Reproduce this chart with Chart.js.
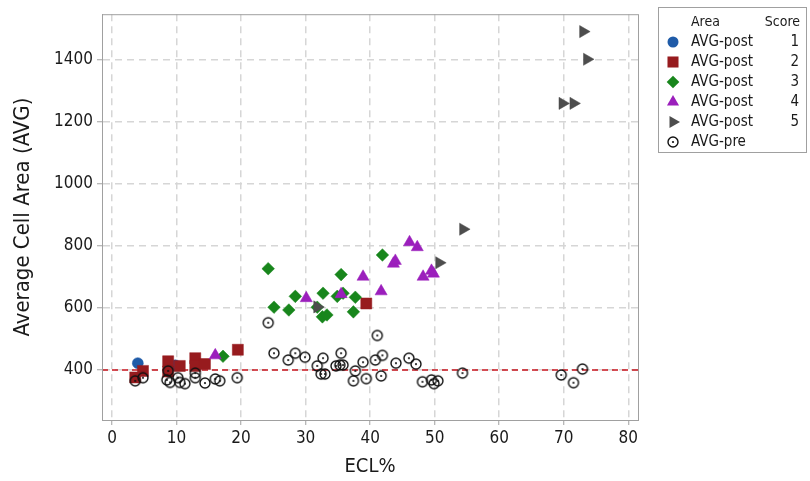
<!DOCTYPE html>
<html lang="en">
<head>
<meta charset="UTF-8">
<title>Average Cell Area vs ECL%</title>
<script src="https://cdn.jsdelivr.net/npm/chart.js"></script>
<style>
    html, body { margin: 0; padding: 0; background: #fff; }
    .chart-container { position: relative; width: 810px; height: 481px; }
</style>
</head>
<body>
<div class="chart-container"><canvas id="cellChart"></canvas></div>
<script>
// ECL% (x) and average cell area (y), one pair of arrays per group
const score1Ecl = [4.0, 9.8];
const score1Avg = [422, 415];

const score2Ecl = [3.6, 4.8, 8.7, 8.7, 10.5, 12.9, 12.9, 14.4, 19.5, 39.4];
const score2Avg = [376, 397, 428, 395, 413, 438, 413, 419, 465, 614];

const score3Ecl = [17.2, 24.2, 25.1, 27.4, 28.4, 31.8, 32.6, 32.7, 33.3, 34.9, 35.5, 35.8, 37.4, 37.7, 41.9];
const score3Avg = [444, 726, 602, 593, 637, 602, 571, 647, 577, 637, 707, 647, 587, 634, 770];

const score4Ecl = [16.0, 30.1, 35.5, 38.9, 41.7, 43.6, 43.9, 46.1, 47.3, 48.2, 49.5, 49.8];
const score4Avg = [447, 631, 644, 700, 653, 742, 751, 811, 795, 700, 719, 710];

const score5Ecl = [31.8, 50.7, 54.4, 69.8, 71.5, 73.0, 73.6];
const score5Avg = [603, 745, 853, 1258, 1258, 1489, 1400];

const preEcl = [3.6, 4.8, 8.5, 9.0, 8.7, 10.2, 10.5, 11.3, 12.9, 12.9, 14.4, 16.0, 16.7, 19.4,
    24.2, 25.1, 27.3, 28.4, 29.9, 31.8, 32.7, 32.4, 33.0, 35.5, 34.7, 35.3, 35.8, 37.7, 37.4,
    38.9, 39.4, 41.1, 40.8, 41.9, 41.7, 44.0, 46.0, 47.1, 48.1, 49.5, 49.9, 50.5, 54.3,
    69.6, 71.5, 72.9];
const preAvg = [365, 375, 368, 360, 397, 375, 360, 356, 390, 375, 358, 371, 365, 375,
    552, 454, 432, 454, 441, 413, 438, 387, 387, 454, 413, 416, 416, 397, 365,
    425, 372, 511, 432, 447, 381, 422, 438, 419, 362, 368, 356, 365, 390,
    384, 359, 403];

const xTicks = [0, 10, 20, 30, 40, 50, 60, 70, 80];
const yTicks = [400, 600, 800, 1000, 1200, 1400];
const refLine = 400;

const legendArea = ['AVG-post', 'AVG-post', 'AVG-post', 'AVG-post', 'AVG-post', 'AVG-pre'];
const legendScore = ['1', '2', '3', '4', '5', ''];

const FONT = "'DejaVu Sans Condensed', 'DejaVu Sans', sans-serif";

// open circle with a dot, like the Minitab symbol
function dotCircle() {
    const c = document.createElement('canvas');
    c.width = 14; c.height = 14;
    const g = c.getContext('2d');
    g.strokeStyle = '#111';
    g.lineWidth = 1.4;
    g.beginPath(); g.arc(7, 7, 5, 0, Math.PI * 2); g.stroke();
    g.fillStyle = '#111';
    g.beginPath(); g.arc(7, 7, 1.1, 0, Math.PI * 2); g.fill();
    return c;
}
const preSymbol = dotCircle();

function toPoints(xs, ys) {
    return xs.map((x, i) => ({ x: x, y: ys[i] }));
}

// marker styles, in legend order
const styles = [
    { color: '#1f5ba8', pointStyle: 'circle', radius: 5.5, rotation: 0 },
    { color: '#971b1e', pointStyle: 'rect', radius: 7.8, rotation: 0 },
    { color: '#18861c', pointStyle: 'rectRot', radius: 6.3, rotation: 0 },
    { color: '#9b1fbc', pointStyle: 'triangle', radius: 7, rotation: 0 },
    { color: '#4d4d4d', pointStyle: 'triangle', radius: 7, rotation: 90 },
    { color: '#111', pointStyle: preSymbol, radius: 7, rotation: 0 }
];
const seriesData = [
    toPoints(score1Ecl, score1Avg),
    toPoints(score2Ecl, score2Avg),
    toPoints(score3Ecl, score3Avg),
    toPoints(score4Ecl, score4Avg),
    toPoints(score5Ecl, score5Avg),
    toPoints(preEcl, preAvg)
];

const datasets = seriesData.map((pts, i) => ({
    label: legendArea[i] + ' ' + legendScore[i],
    data: pts,
    pointStyle: styles[i].pointStyle,
    pointRadius: styles[i].radius,
    pointRotation: styles[i].rotation,
    backgroundColor: styles[i].color,
    borderColor: styles[i].color,
    pointBorderWidth: 0.5
})).reverse(); // first dataset is drawn on top

const framePlugin = {
    id: 'frame',
    beforeDatasetsDraw(chart) {
        const { ctx, chartArea: a, scales } = chart;
        ctx.save();
        const y = scales.y.getPixelForValue(refLine);
        ctx.strokeStyle = '#c8141e';
        ctx.lineWidth = 1.5;
        ctx.setLineDash([6, 4]);
        ctx.beginPath(); ctx.moveTo(a.left, y); ctx.lineTo(a.right, y); ctx.stroke();
        ctx.setLineDash([]);
        ctx.strokeStyle = '#a0a0a0';
        ctx.lineWidth = 1;
        ctx.strokeRect(a.left + 0.5, a.top + 0.5, a.right - a.left, a.bottom - a.top);
        ctx.restore();
    },
    afterDraw(chart) {
        const ctx = chart.ctx;
        ctx.save();
        ctx.strokeStyle = '#a0a0a0';
        ctx.lineWidth = 1;
        ctx.strokeRect(658.5, 7.5, 148, 145);
        ctx.fillStyle = '#1a1a1a';
        ctx.textBaseline = 'middle';
        ctx.font = '14px ' + FONT;
        ctx.textAlign = 'left';
        ctx.fillText('Area', 691, 22);
        ctx.textAlign = 'right';
        ctx.fillText('Score', 800, 22);
        legendArea.forEach((name, i) => {
            const y = 42 + i * 20;
            ctx.font = '15px ' + FONT;
            ctx.textAlign = 'left';
            ctx.fillStyle = '#1a1a1a';
            ctx.fillText(name, 691, y);
            ctx.textAlign = 'right';
            ctx.fillText(legendScore[i], 799, y);
            drawMarker(ctx, styles[i], 673, y);
        });
        ctx.restore();
    }
};

function drawMarker(ctx, st, x, y) {
    const r = st.radius;
    ctx.fillStyle = st.color;
    ctx.beginPath();
    if (st.pointStyle === 'circle') {
        ctx.arc(x, y, r, 0, Math.PI * 2);
    } else if (st.pointStyle === 'rect') {
        const s = r * Math.SQRT1_2;
        ctx.rect(x - s, y - s, 2 * s, 2 * s);
    } else if (st.pointStyle === 'rectRot') {
        ctx.moveTo(x, y - r); ctx.lineTo(x + r, y); ctx.lineTo(x, y + r); ctx.lineTo(x - r, y);
    } else if (st.pointStyle === 'triangle') {
        let rad = st.rotation * Math.PI / 180;
        for (let k = 0; k < 3; k++) {
            const px = x + Math.sin(rad) * r, py = y - Math.cos(rad) * r;
            if (k === 0) ctx.moveTo(px, py); else ctx.lineTo(px, py);
            rad += 2 * Math.PI / 3;
        }
    } else {
        ctx.drawImage(st.pointStyle, x - 7, y - 7);
        return;
    }
    ctx.closePath();
    ctx.fill();
}

const gridOpts = {
    color: '#d6d6d6',
    lineWidth: 1.5,
    tickColor: '#a0a0a0',
    tickLength: 5,
    tickWidth: 1,
    tickBorderDash: []
};

new Chart(document.getElementById('cellChart'), {
    type: 'scatter',
    data: { datasets: datasets },
    plugins: [framePlugin],
    options: {
        responsive: true,
        maintainAspectRatio: false,
        animation: false,
        layout: { padding: { top: 7, right: 172, left: 0, bottom: 0 } },
        plugins: {
            legend: { display: false },
            tooltip: { enabled: false }
        },
        scales: {
            x: {
                type: 'linear',
                min: -1.55,
                max: 81.5,
                afterBuildTicks: s => { s.ticks = xTicks.map(v => ({ value: v })); },
                afterFit: s => { s.height = 61; },
                grid: gridOpts,
                border: { color: '#a0a0a0', dash: [7, 5] },
                ticks: { font: { family: FONT, size: 17 }, color: '#1a1a1a', padding: 3, maxRotation: 0,
                    callback: v => String(v) },
                title: {
                    display: true,
                    text: 'ECL%',
                    font: { family: FONT, size: 20 },
                    color: '#1a1a1a',
                    padding: { top: 0, bottom: 2 }
                }
            },
            y: {
                type: 'linear',
                min: 239,
                max: 1545,
                afterBuildTicks: s => { s.ticks = yTicks.map(v => ({ value: v })); },
                afterFit: s => { s.width = 102; },
                grid: gridOpts,
                border: { color: '#a0a0a0', dash: [7, 5] },
                ticks: { font: { family: FONT, size: 17 }, color: '#1a1a1a', padding: 4,
                    callback: v => String(v) },
                title: {
                    display: true,
                    text: 'Average Cell Area (AVG)',
                    font: { family: FONT, size: 22 },
                    color: '#1a1a1a',
                    padding: { top: 10, bottom: 0 }
                }
            }
        }
    }
});
</script>
</body>
</html>
